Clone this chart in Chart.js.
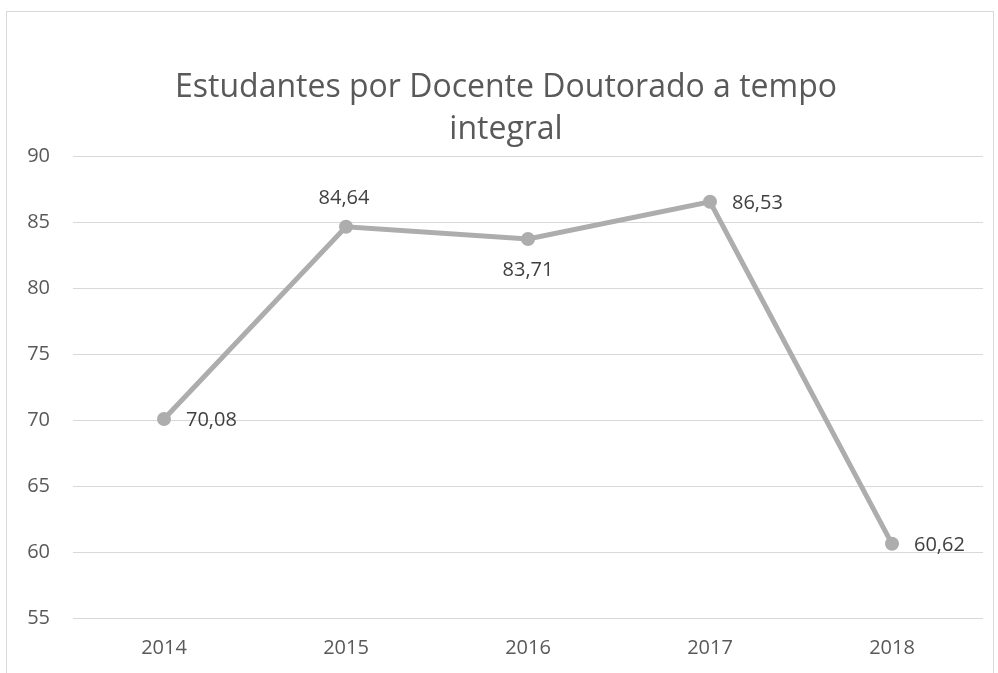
<!DOCTYPE html>
<html>
<head>
<meta charset="utf-8">
<script src="https://cdn.jsdelivr.net/npm/chart.js@4.4.0/dist/chart.umd.min.js"></script>
<style>
    body { margin: 0; background: #fff; }
    #wrap { position: relative; width: 998px; height: 673px; }
    #frame {
        position: absolute; left: 6px; top: 11px; width: 986px; height: 700px;
        border: 1px solid #d9d9d9; pointer-events: none;
    }
</style>
</head>
<body>
<div id="wrap">
    <canvas id="chart" width="998" height="673"></canvas>
    <div id="frame"></div>
</div>
<script>
const years = ['2014', '2015', '2016', '2017', '2018'];
const ratios = [70.08, 84.64, 83.71, 86.53, 60.62];
const yTicks = { min: 55, max: 90, step: 5 };
const titleLines = ['Estudantes por Docente Doutorado a tempo', 'integral'];

// where each value label sits relative to its point
const labelSide = ['right', 'above', 'below', 'right', 'right'];

// chart title, centred over the whole frame rather than the plot
const frameTitle = {
    id: 'frameTitle',
    afterDraw(chart) {
        const ctx = chart.ctx;
        ctx.save();
        ctx.font = '32px "Open Sans"';
        ctx.fillStyle = '#595959';
        ctx.textAlign = 'center';
        ctx.textBaseline = 'middle';
        titleLines.forEach((line, i) => ctx.fillText(line, 506, 88 + i * 42));
        ctx.restore();
    }
};

const valueLabels = {
    id: 'valueLabels',
    afterDatasetsDraw(chart) {
        const ctx = chart.ctx;
        const meta = chart.getDatasetMeta(0);
        ctx.save();
        ctx.font = '20px "Open Sans"';
        ctx.fillStyle = '#404040';
        ctx.textBaseline = 'middle';
        meta.data.forEach((pt, i) => {
            const txt = ratios[i].toFixed(2).replace('.', ',');
            const side = labelSide[i];
            if (side === 'right') {
                ctx.textAlign = 'left';
                ctx.fillText(txt, pt.x + 22, pt.y + 1);
            } else if (side === 'above') {
                ctx.textAlign = 'center';
                ctx.fillText(txt, pt.x - 2, pt.y - 28);
            } else {
                ctx.textAlign = 'center';
                ctx.fillText(txt, pt.x, pt.y + 31);
            }
        });
        ctx.restore();
    }
};

new Chart(document.getElementById('chart'), {
    type: 'line',
    data: {
        labels: years,
        datasets: [{
            data: ratios,
            borderColor: '#adadad',
            backgroundColor: '#adadad',
            borderWidth: 5,
            pointRadius: 7,
            pointHoverRadius: 7,
            pointBorderWidth: 0,
            tension: 0
        }]
    },
    options: {
        responsive: false,
        animation: false,
        layout: { padding: { left: 0, right: 15, top: 156, bottom: 0 } },
        plugins: {
            legend: { display: false },
            tooltip: { enabled: false },
            title: { display: false }
        },
        scales: {
            x: {
                offset: true,
                grid: { display: false },
                border: { display: false },
                ticks: { color: '#595959', font: { family: 'Open Sans', size: 20 }, padding: 10 },
                afterFit(scale) { scale.height = 55; }
            },
            y: {
                min: yTicks.min,
                max: yTicks.max,
                grid: { color: '#d9d9d9', lineWidth: 1, drawTicks: false },
                border: { display: false },
                ticks: {
                    stepSize: yTicks.step,
                    color: '#595959',
                    font: { family: 'Open Sans', size: 20 },
                    padding: 23
                },
                afterFit(scale) { scale.width = 73; }
            }
        }
    },
    plugins: [valueLabels, frameTitle]
});
</script>
</body>
</html>
